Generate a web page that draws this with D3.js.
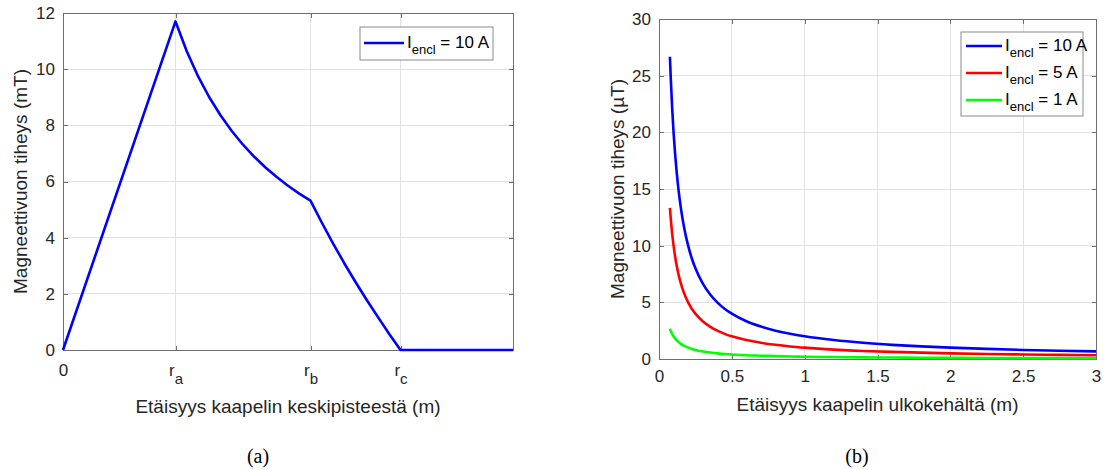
<!DOCTYPE html>
<html>
<head>
<meta charset="utf-8">
<style>
  body { margin: 0; background: #fff; }
  svg { font-family: "Liberation Sans", Arial, sans-serif; }
  .tick text { fill: #262626; font-size: 17px; }
  .axis path, .axis line { stroke: #6e6e6e; shape-rendering: crispEdges; }
  .grid line { stroke: #e2e2e2; shape-rendering: crispEdges; }
  .label { fill: #262626; font-size: 19px; }
  .caption { font-family: "Liberation Serif", "Times New Roman", serif; font-size: 20px; fill: #000; }
</style>
<script src="https://d3js.org/d3.v7.min.js"></script>
</head>
<body>
<script>
// (a) field inside/around the cable, x in units where ra = 1
var distA = [0, 1, 1.1, 1.2, 1.3, 1.4, 1.5, 1.6, 1.7, 1.8, 1.9, 2.0, 2.1, 2.2,
             2.3, 2.4, 2.5, 2.6, 2.7, 2.8, 2.9, 3.0, 4.0];
var bA = [0, 11.7, 10.64, 9.75, 9.0, 8.36, 7.8, 7.31, 6.88, 6.5, 6.16, 5.85, 5.57, 5.32,
          4.54, 3.80, 3.09, 2.42, 1.78, 1.17, 0.57, 0, 0];
var tickPosA = [0, 1, 2.2, 3.0];
var tickSubA = ["", "a", "b", "c"];
var yTicksA = [0, 2, 4, 6, 8, 10, 12];

// (b) field outside the cable
var distB = [0.075, 0.08, 0.09, 0.1, 0.11, 0.12, 0.13, 0.14, 0.15, 0.17, 0.2, 0.225, 0.25,
             0.3, 0.35, 0.4, 0.45, 0.5, 0.6, 0.7, 0.8, 0.9, 1.0, 1.2, 1.4, 1.6, 1.8, 2.0,
             2.25, 2.5, 2.75, 3.0];
var b10 = [26.67, 25.0, 22.22, 20.0, 18.18, 16.67, 15.38, 14.29, 13.33, 11.76, 10.0, 8.89, 8.0,
           6.67, 5.71, 5.0, 4.44, 4.0, 3.33, 2.86, 2.5, 2.22, 2.0, 1.67, 1.43, 1.25, 1.11, 1.0,
           0.89, 0.8, 0.73, 0.67];
var b5 = [13.33, 12.5, 11.11, 10.0, 9.09, 8.33, 7.69, 7.14, 6.67, 5.88, 5.0, 4.44, 4.0,
          3.33, 2.86, 2.5, 2.22, 2.0, 1.67, 1.43, 1.25, 1.11, 1.0, 0.83, 0.71, 0.63, 0.56, 0.5,
          0.44, 0.4, 0.36, 0.33];
var b1 = [2.67, 2.5, 2.22, 2.0, 1.82, 1.67, 1.54, 1.43, 1.33, 1.18, 1.0, 0.89, 0.8,
          0.67, 0.57, 0.5, 0.44, 0.4, 0.33, 0.29, 0.25, 0.22, 0.2, 0.17, 0.14, 0.13, 0.11, 0.1,
          0.09, 0.08, 0.07, 0.07];
var seriesB = [
  {name: " = 10 A", color: "#0000ff", values: b10},
  {name: " = 5 A", color: "#ff0000", values: b5},
  {name: " = 1 A", color: "#00ff00", values: b1}
];
var xTicksB = [0, 0.5, 1, 1.5, 2, 2.5, 3];
var yTicksB = [0, 5, 10, 15, 20, 25, 30];

var svg = d3.select("body").append("svg")
  .attr("width", 1114)
  .attr("height", 470);

function frame(g, x, y, w, h, xTicks, yTicks, xPad) {
  // grid
  g.append("g").attr("class", "grid").selectAll("line")
    .data(xTicks).enter().append("line")
    .attr("x1", d => x(d)).attr("x2", d => x(d))
    .attr("y1", 0).attr("y2", h);
  g.append("g").attr("class", "grid").selectAll("line")
    .data(yTicks).enter().append("line")
    .attr("y1", d => y(d)).attr("y2", d => y(d))
    .attr("x1", 0).attr("x2", w);

  var tl = 4.5, fmt = d3.format("~g");
  var xb = g.append("g").attr("class", "axis")
    .attr("transform", "translate(0," + h + ")")
    .call(d3.axisBottom(x).tickValues(xTicks).tickSizeInner(-tl).tickSizeOuter(0)
      .tickPadding(xPad).tickFormat(fmt));
  g.append("g").attr("class", "axis")
    .call(d3.axisTop(x).tickValues(xTicks).tickSizeInner(-tl).tickSizeOuter(0).tickFormat(""));
  g.append("g").attr("class", "axis")
    .call(d3.axisLeft(y).tickValues(yTicks).tickSizeInner(-tl).tickSizeOuter(0)
      .tickPadding(8).tickFormat(fmt));
  g.append("g").attr("class", "axis")
    .attr("transform", "translate(" + w + ",0)")
    .call(d3.axisRight(y).tickValues(yTicks).tickSizeInner(-tl).tickSizeOuter(0).tickFormat(""));
  return xb;
}

function legendLabel(t, sub, rest) {
  t.append("tspan").text("I");
  t.append("tspan").attr("dy", 6).attr("font-size", 13).text(sub);
  t.append("tspan").attr("dy", -6).text(rest);
}

// ---------- (a)
var mA = {left: 63, top: 13}, wA = 450, hA = 337;
var xA = d3.scaleLinear().domain([0, 4]).range([0, wA]);
var yA = d3.scaleLinear().domain([0, 12]).range([hA, 0]);
var gA = svg.append("g").attr("transform", "translate(" + mA.left + "," + mA.top + ")");
var xbA = frame(gA, xA, yA, wA, hA, tickPosA, yTicksA, 14);

xbA.selectAll(".tick text").each(function(d, i) {
  var t = d3.select(this).text("");
  if (i === 0) { t.text("0"); return; }
  t.append("tspan").text("r");
  t.append("tspan").attr("dy", 8).attr("font-size", 15).text(tickSubA[i]);
});

gA.append("path")
  .datum(distA.map((d, i) => [d, bA[i]]))
  .attr("fill", "none")
  .attr("stroke", "#0000ff")
  .attr("stroke-width", 2.6)
  .attr("stroke-linejoin", "round")
  .attr("d", d3.line().x(d => xA(d[0])).y(d => yA(d[1])));

gA.append("text").attr("class", "label")
  .attr("text-anchor", "middle")
  .attr("x", wA / 2).attr("y", hA + 63)
  .text("Etäisyys kaapelin keskipisteestä (m)");
gA.append("text").attr("class", "label")
  .attr("text-anchor", "middle")
  .attr("transform", "translate(-36," + hA / 2 + ") rotate(-90)")
  .text("Magneettivuon tiheys (mT)");

var legA = gA.append("g").attr("transform", "translate(297,14)");
legA.append("rect").attr("width", 133).attr("height", 33)
  .attr("fill", "#fff").attr("stroke", "#8a8a8a");
legA.append("line").attr("x1", 4).attr("x2", 44).attr("y1", 16).attr("y2", 16)
  .attr("stroke", "#0000ff").attr("stroke-width", 2.6);
legendLabel(legA.append("text").attr("x", 47).attr("y", 21).attr("font-size", 17).attr("fill", "#000"),
  "encl", " = 10 A");

svg.append("text").attr("class", "caption")
  .attr("text-anchor", "middle").attr("x", 258).attr("y", 463).text("(a)");

// ---------- (b)
var mB = {left: 659, top: 19}, wB = 437, hB = 340;
var xB = d3.scaleLinear().domain([0, 3]).range([0, wB]);
var yB = d3.scaleLinear().domain([0, 30]).range([hB, 0]);
var gB = svg.append("g").attr("transform", "translate(" + mB.left + "," + mB.top + ")");
frame(gB, xB, yB, wB, hB, xTicksB, yTicksB, 11);

var lineB = d3.line().x(d => xB(d[0])).y(d => yB(d[1])).curve(d3.curveMonotoneX);
seriesB.slice().reverse().forEach(function(s) {
  gB.append("path")
    .datum(distB.map((d, i) => [d, s.values[i]]))
    .attr("fill", "none")
    .attr("stroke", s.color)
    .attr("stroke-width", 2.6)
    .attr("d", lineB);
});

gB.append("text").attr("class", "label")
  .attr("text-anchor", "middle")
  .attr("x", wB / 2).attr("y", hB + 52)
  .text("Etäisyys kaapelin ulkokehältä (m)");
gB.append("text").attr("class", "label")
  .attr("text-anchor", "middle")
  .attr("transform", "translate(-35," + hB / 2 + ") rotate(-90)")
  .text("Magneettivuon tiheys (µT)");

var legB = gB.append("g").attr("transform", "translate(302,13)");
legB.append("rect").attr("width", 122).attr("height", 84)
  .attr("fill", "#fff").attr("stroke", "#8a8a8a");
seriesB.forEach(function(s, i) {
  var yy = 14 + i * 27;
  legB.append("line").attr("x1", 5).attr("x2", 41).attr("y1", yy).attr("y2", yy)
    .attr("stroke", s.color).attr("stroke-width", 2.6);
  legendLabel(legB.append("text").attr("x", 44).attr("y", yy + 5).attr("font-size", 17).attr("fill", "#000"),
    "encl", s.name);
});

svg.append("text").attr("class", "caption")
  .attr("text-anchor", "middle").attr("x", 857).attr("y", 463).text("(b)");
</script>
</body>
</html>
